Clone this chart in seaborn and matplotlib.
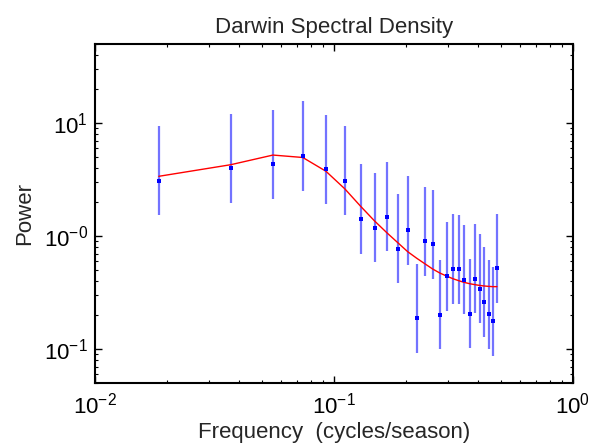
import matplotlib
matplotlib.use("Agg")
import matplotlib.pyplot as plt
import matplotlib.ticker as mticker
import numpy as np
import pandas as pd
import seaborn as sns

# Data
freq = [0.0185, 0.0370, 0.0556, 0.0741, 0.0926, 0.1111, 0.1296, 0.1481, 0.1667,
        0.1852, 0.2037, 0.2222, 0.2407, 0.2593, 0.2778, 0.2963, 0.3148, 0.3333,
        0.3519, 0.3704, 0.3889, 0.4074, 0.4259, 0.4444, 0.4630, 0.4815]
power = [3.10, 3.97, 4.34, 5.13, 3.89, 3.10, 1.42, 1.19, 1.49, 0.774, 1.13, 0.188,
         0.904, 0.846, 0.202, 0.440, 0.514, 0.511, 0.411, 0.206, 0.420, 0.343,
         0.262, 0.203, 0.177, 0.521]
upper = [9.39, 12.03, 13.15, 15.54, 11.79, 9.39, 4.30, 3.61, 4.51, 2.35, 3.42, 0.570,
         2.74, 2.56, 0.612, 1.33, 1.56, 1.55, 1.25, 0.624, 1.27, 1.04, 0.794, 0.615,
         0.536, 1.58]
lower = [1.53, 1.96, 2.14, 2.53, 1.92, 1.53, 0.70, 0.587, 0.735, 0.382, 0.557, 0.0927,
         0.446, 0.417, 0.0996, 0.217, 0.253, 0.252, 0.203, 0.102, 0.207, 0.169, 0.129,
         0.100, 0.0873, 0.257]
model = [3.38, 4.28, 5.21, 4.96, 3.75, 2.62, 1.83, 1.36, 1.07, 0.874, 0.728, 0.637,
         0.568, 0.511, 0.471, 0.443, 0.420, 0.403, 0.389, 0.379, 0.372, 0.366, 0.362,
         0.359, 0.357, 0.357]

xticks = [0.01, 0.1, 1.0]
xticklabels = ["$10^{-2}$", "$10^{-1}$", "$10^{0}$"]
yticks = [0.1, 1.0, 10.0]
yticklabels = ["$10^{-1}$", "$10^{-0}$", "$10^{1}$"]

df = pd.DataFrame({"freq": freq, "power": power, "upper": upper,
                   "lower": lower, "model": model})

sns.set_style("white")
plt.rcParams["font.family"] = ["Liberation Sans", "DejaVu Sans"]
plt.rcParams["mathtext.default"] = "regular"

fig = plt.figure(figsize=(6.01, 4.45), dpi=100)
ax = fig.add_axes([0.158, 0.139, 0.795, 0.762])

ax.vlines(df["freq"], df["lower"], df["upper"], color="#7373ff", linewidth=1.6, zorder=2)
sns.lineplot(data=df, x="freq", y="model", ax=ax, color="#ff0000", linewidth=1,
             zorder=3, estimator=None, sort=False)
sns.scatterplot(data=df, x="freq", y="power", ax=ax, color="#0000ff", marker="s",
                s=5, linewidth=0, zorder=4)

ax.set_xscale("log")
ax.set_yscale("log")
ax.set_xlim(0.01, 1.0)
ax.set_ylim(0.05, 50)

ax.set_xticks(xticks)
ax.set_xticklabels(xticklabels)
ax.set_yticks(yticks)
ax.set_yticklabels(yticklabels)
ax.xaxis.set_minor_locator(mticker.LogLocator(base=10, subs=np.arange(2, 10)))
ax.yaxis.set_minor_locator(mticker.LogLocator(base=10, subs=np.arange(2, 10)))
ax.xaxis.set_minor_formatter(mticker.NullFormatter())
ax.yaxis.set_minor_formatter(mticker.NullFormatter())

ax.tick_params(which="both", direction="in", top=True, right=True,
               bottom=True, left=True, colors="black", labelsize=16)
ax.tick_params(which="major", length=5, width=1)
ax.tick_params(which="minor", length=2.5, width=0.8)
ax.tick_params(axis="x", pad=7)
ax.tick_params(axis="y", pad=5)

for sp in ax.spines.values():
    sp.set_color("black")
    sp.set_linewidth(1.5)

ax.set_xlabel("Frequency  (cycles/season)", fontsize=16, labelpad=2)
ax.set_ylabel("Power", fontsize=16, labelpad=6)
ax.set_title("Darwin Spectral Density", fontsize=16, pad=8)

fig.savefig("out.png", dpi=100)
